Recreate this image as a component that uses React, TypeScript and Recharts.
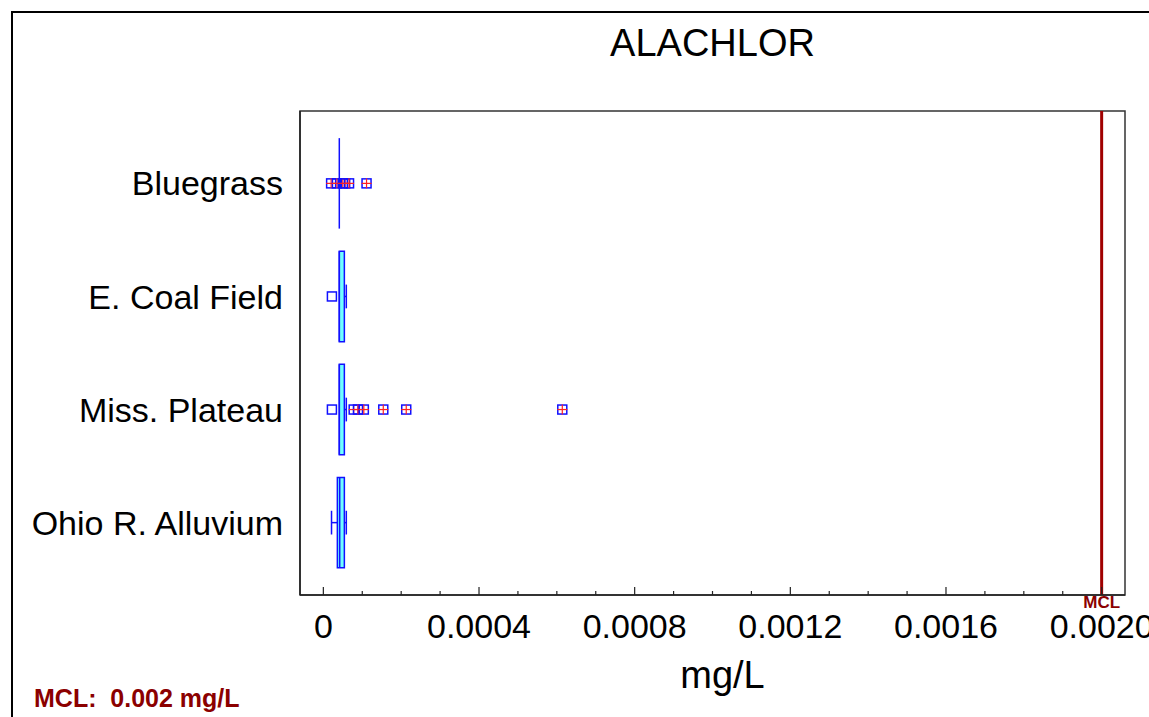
import {
  ScatterChart,
  Scatter,
  XAxis,
  YAxis,
  ReferenceArea,
  ReferenceLine,
} from "recharts";

// categories, top to bottom
const categories = ["Bluegrass", "E. Coal Field", "Miss. Plateau", "Ohio R. Alluvium"];
const catPos = [1, 2, 3, 4];

// box statistics (mg/L)
const q1 = [0.000041, 0.000041, 0.000041, 0.000036];
const median = [0.000041, 0.000041, 0.000041, 0.000042];
const q3 = [0.000041, 0.000054, 0.000054, 0.000054];
const whiskerLow = [0.000041, 0.000041, 0.000041, 0.000021];
const whiskerHigh = [0.000041, 0.000059, 0.000059, 0.000059];

// outliers
const nearOutliers = [
  { x: 0.000022, y: 2 },
  { x: 0.000022, y: 3 },
];
const farOutliers = [
  { x: 0.00002, y: 1 },
  { x: 0.000035, y: 1 },
  { x: 0.00005, y: 1 },
  { x: 0.000056, y: 1 },
  { x: 0.000066, y: 1 },
  { x: 0.000111, y: 1 },
  { x: 0.000078, y: 3 },
  { x: 0.000089, y: 3 },
  { x: 0.000104, y: 3 },
  { x: 0.000154, y: 3 },
  { x: 0.000213, y: 3 },
  { x: 0.000614, y: 3 },
];

const MCL = 0.002;

const majorTicks = [0, 0.0004, 0.0008, 0.0012, 0.0016, 0.002];
const majorLabels = ["0", "0.0004", "0.0008", "0.0012", "0.0016", "0.0020"];
const minorTicks = [
  0.0001, 0.0002, 0.0003, 0.0005, 0.0006, 0.0007, 0.0009, 0.001, 0.0011,
  0.0013, 0.0014, 0.0015, 0.0017, 0.0018, 0.0019,
];
const allTicks = [...majorTicks, ...minorTicks].sort((a, b) => a - b);

const FONT = "'Liberation Sans', Arial, sans-serif";
const BLUE = "#1010ff";
const CYAN = "#70ffff";
const DARKRED = "#8b0000";
const BOX_HALF = 0.4;
const CAP_HALF = 0.105;

const XTick = (props: any) => {
  const { x, y, payload } = props;
  const idx = majorTicks.indexOf(payload.value);
  const major = idx >= 0;
  return (
    <g>
      <line x1={x} x2={x} y1={y} y2={y - (major ? 8 : 4)} stroke="#222" strokeWidth={1.2} />
      {major && (
        <text x={x} y={y + 43} textAnchor="middle" fontSize={34} fontFamily={FONT} fill="#000">
          {majorLabels[idx]}
        </text>
      )}
    </g>
  );
};

const OpenSquare = (props: any) => {
  const { cx, cy } = props;
  return <rect x={cx - 4.5} y={cy - 4.5} width={9} height={9} fill="none" stroke={BLUE} strokeWidth={1.5} />;
};

const CrossSquare = (props: any) => {
  const { cx, cy } = props;
  return (
    <g>
      <rect x={cx - 4.5} y={cy - 4.5} width={9} height={9} fill="none" stroke={BLUE} strokeWidth={1.5} />
      <line x1={cx - 5} x2={cx + 5} y1={cy} y2={cy} stroke="#ff2020" strokeWidth={1.2} />
      <line x1={cx} x2={cx} y1={cy - 5} y2={cy + 5} stroke="#ff2020" strokeWidth={1.2} />
    </g>
  );
};

export default function App() {
  return (
    <div
      style={{
        position: "absolute",
        left: 0,
        top: 0,
        width: 1149,
        height: 717,
        overflow: "hidden",
        background: "#fff",
        fontFamily: FONT,
      }}
    >
      <div
        style={{
          position: "absolute",
          left: 11,
          top: 11,
          width: 1200,
          height: 800,
          borderTop: "2px solid #000",
          borderLeft: "2px solid #000",
        }}
      />
      <div
        style={{
          position: "absolute",
          left: 300,
          width: 825,
          top: 22,
          textAlign: "center",
          fontSize: 38,
          lineHeight: "42px",
          color: "#000",
        }}
      >
        ALACHLOR
      </div>
      <div
        style={{
          position: "absolute",
          left: 34,
          top: 684,
          fontSize: 25,
          fontWeight: "bold",
          color: DARKRED,
          whiteSpace: "pre",
          lineHeight: "28px",
        }}
      >
        {"MCL:  0.002 mg/L"}
      </div>
      <div style={{ position: "absolute", left: 0, top: 0 }}>
        <ScatterChart width={1149} height={717} margin={{ top: 111, right: 24, left: 0, bottom: 0 }}>
          <XAxis
            type="number"
            dataKey="x"
            domain={[-0.00006, 0.00206]}
            ticks={allTicks}
            interval={0}
            tick={<XTick />}
            tickLine={false}
            tickSize={0}
            tickMargin={0}
            height={122}
            axisLine={{ stroke: "#222", strokeWidth: 1.5 }}
            allowDataOverflow
            label={{
              value: "mg/L",
              position: "insideBottom",
              offset: 29,
              dx: 10,
              fontSize: 38,
              fontFamily: FONT,
              fill: "#000",
            }}
          />
          <YAxis
            type="number"
            dataKey="y"
            domain={[0.36, 4.64]}
            reversed
            ticks={catPos}
            interval={0}
            width={300}
            tickLine={false}
            tickSize={0}
            tickMargin={17}
            tickFormatter={(v: number) => categories[v - 1]}
            tick={{ fill: "#000", fontSize: 34, fontFamily: FONT }}
            axisLine={{ stroke: "#222", strokeWidth: 1.5 }}
            allowDataOverflow
          />
          <ReferenceArea
            x1={-0.00006}
            x2={0.00206}
            y1={0.36}
            y2={4.64}
            fill="none"
            stroke="#333"
            strokeWidth={1.5}
            fillOpacity={0}
          />
          <ReferenceLine
            x={MCL}
            stroke="#a00000"
            strokeWidth={3}
            label={{
              value: "MCL",
              position: "bottom",
              offset: 1,
              fill: DARKRED,
              fontSize: 17,
              fontWeight: "bold",
              fontFamily: FONT,
            }}
          />
          {catPos.map((c, i) =>
            whiskerLow[i] < q1[i] ? (
              <ReferenceLine
                key={`wl${i}`}
                segment={[
                  { x: whiskerLow[i], y: c },
                  { x: q1[i], y: c },
                ]}
                stroke={BLUE}
                strokeWidth={1.5}
              />
            ) : null
          )}
          {catPos.map((c, i) =>
            whiskerLow[i] < q1[i] ? (
              <ReferenceLine
                key={`wlc${i}`}
                segment={[
                  { x: whiskerLow[i], y: c - CAP_HALF },
                  { x: whiskerLow[i], y: c + CAP_HALF },
                ]}
                stroke={BLUE}
                strokeWidth={1.5}
              />
            ) : null
          )}
          {catPos.map((c, i) =>
            whiskerHigh[i] > q3[i] ? (
              <ReferenceLine
                key={`wh${i}`}
                segment={[
                  { x: q3[i], y: c },
                  { x: whiskerHigh[i], y: c },
                ]}
                stroke={BLUE}
                strokeWidth={1.5}
              />
            ) : null
          )}
          {catPos.map((c, i) =>
            whiskerHigh[i] > q3[i] ? (
              <ReferenceLine
                key={`whc${i}`}
                segment={[
                  { x: whiskerHigh[i], y: c - CAP_HALF },
                  { x: whiskerHigh[i], y: c + CAP_HALF },
                ]}
                stroke={BLUE}
                strokeWidth={1.5}
              />
            ) : null
          )}
          {catPos.map((c, i) =>
            q3[i] > q1[i] ? (
              <ReferenceArea
                key={`box${i}`}
                x1={q1[i]}
                x2={q3[i]}
                y1={c - BOX_HALF}
                y2={c + BOX_HALF}
                fill={CYAN}
                fillOpacity={1}
                stroke={BLUE}
                strokeWidth={1.5}
              />
            ) : null
          )}
          {catPos.map((c, i) => (
            <ReferenceLine
              key={`med${i}`}
              segment={[
                { x: median[i], y: c - BOX_HALF },
                { x: median[i], y: c + BOX_HALF },
              ]}
              stroke={BLUE}
              strokeWidth={1.5}
            />
          ))}
          <Scatter data={nearOutliers} shape={<OpenSquare />} isAnimationActive={false} />
          <Scatter data={farOutliers} shape={<CrossSquare />} isAnimationActive={false} />
        </ScatterChart>
      </div>
    </div>
  );
}
